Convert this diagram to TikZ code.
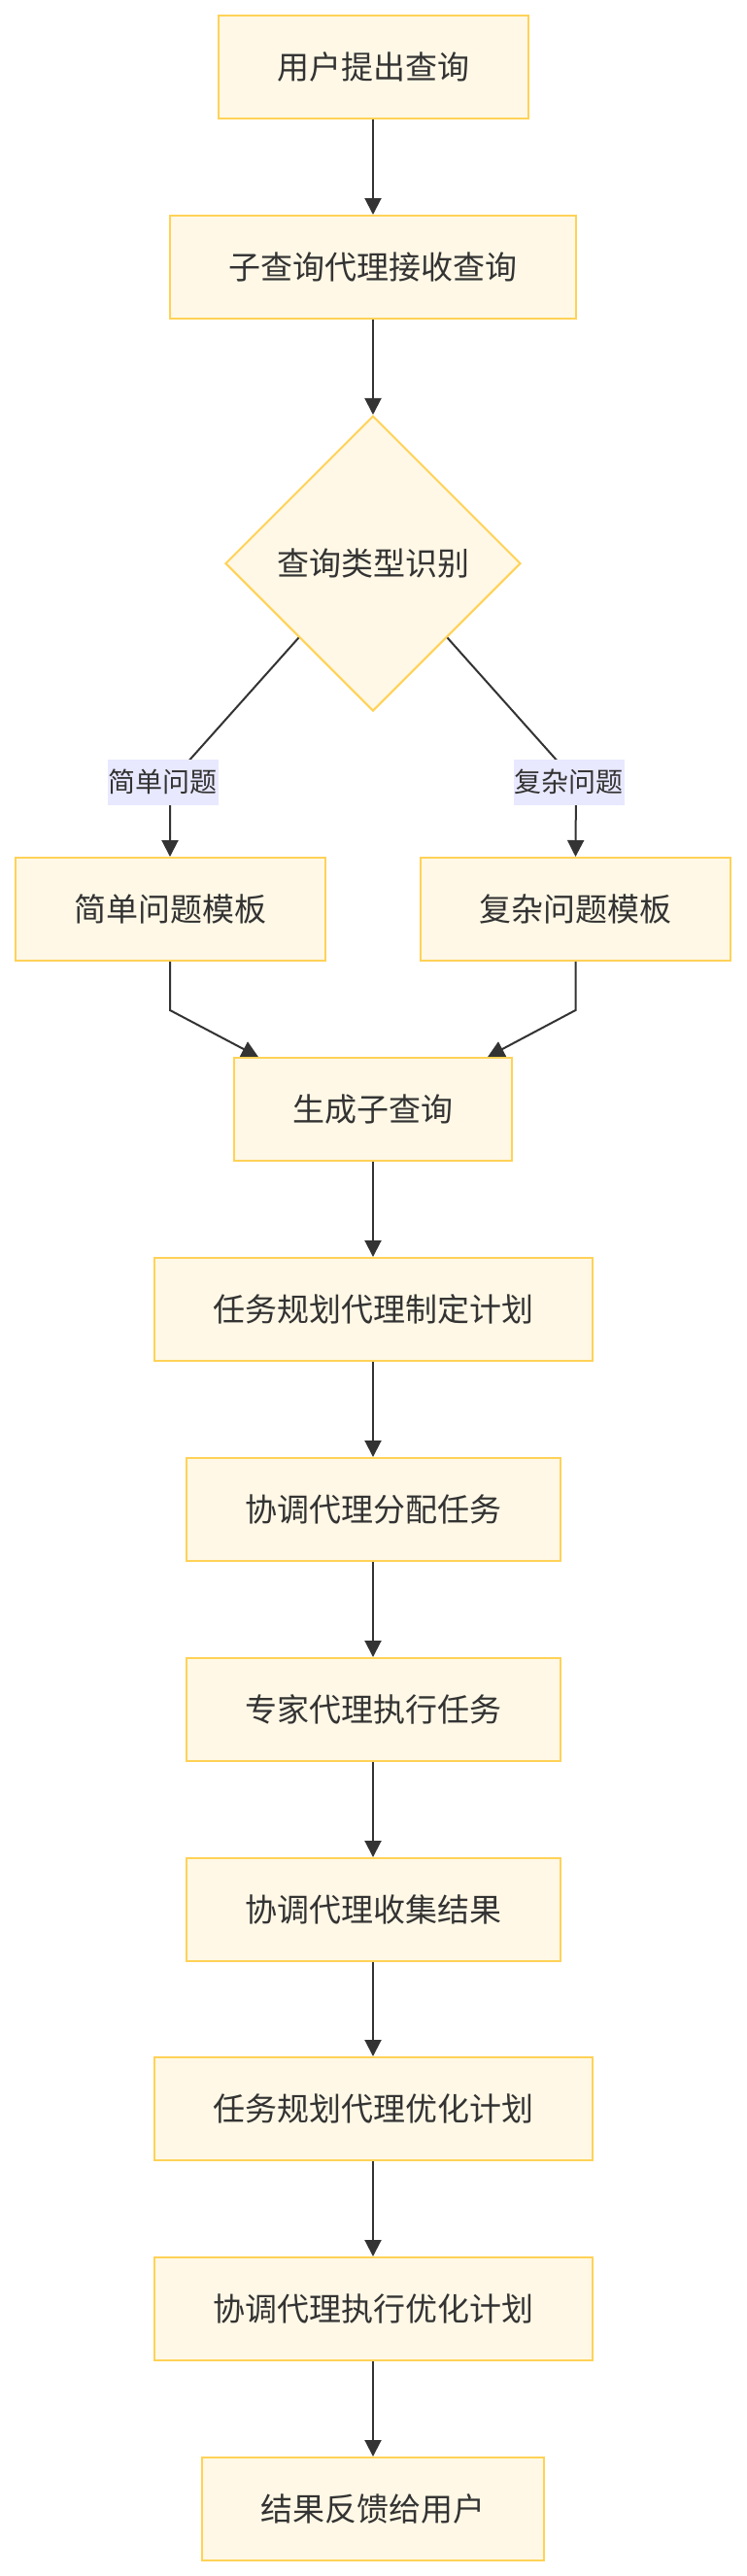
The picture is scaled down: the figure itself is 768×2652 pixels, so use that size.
\documentclass[tikz,border=0pt]{standalone}
\usepackage{fontspec}
\newfontfamily\cjk{Noto Sans CJK SC}
\usetikzlibrary{arrows.meta,shapes.geometric,calc}
\definecolor{boxfill}{HTML}{FFF8E6}
\definecolor{boxline}{HTML}{FFD257}
\definecolor{lblfill}{HTML}{E8E8FF}
\definecolor{ink}{HTML}{333333}

\begin{document}
\begin{tikzpicture}[x=0.5pt,y=-0.5pt,
  stepbox/.style={draw=boxline, fill=boxfill, line width=1pt, text=ink,
    font=\cjk\fontsize{16.5pt}{20pt}\selectfont,
    inner xsep=30.25pt, inner ysep=0pt, minimum height=53pt},
  choice/.style={diamond, aspect=1, draw=boxline, fill=boxfill, line width=1pt, text=ink,
    font=\cjk\fontsize{16.5pt}{20pt}\selectfont,
    inner sep=0pt, minimum width=152pt, minimum height=152pt},
  lbl/.style={fill=lblfill, text=ink, font=\cjk\fontsize{14pt}{17pt}\selectfont,
    inner xsep=0.5pt, inner ysep=0pt, minimum height=23.5pt},
  arr/.style={draw=ink, line width=1pt, -{Triangle[length=8.5pt,width=8.5pt]}}]
\useasboundingbox (0,0) rectangle (768,2652);
% Query intake
\node[stepbox] (ask) at (384,68.5) {用户提出查询};
\node[stepbox] (recv) at (384,275) {子查询代理接收查询};
\node[choice] (kind) at (384,580) {查询类型识别};
% Templates
\node[stepbox] (simple) at (175,936) {简单问题模板};
\node[stepbox] (complex) at (592.5,936) {复杂问题模板};
% Agent pipeline
\node[stepbox] (gen) at (384,1142) {生成子查询};
\node[stepbox] (plan) at (384,1348) {任务规划代理制定计划};
\node[stepbox] (assign) at (384,1554) {协调代理分配任务};
\node[stepbox] (expert) at (384,1760) {专家代理执行任务};
\node[stepbox] (collect) at (384,1966) {协调代理收集结果};
\node[stepbox] (refine) at (384,2171) {任务规划代理优化计划};
\node[stepbox] (run) at (384,2377) {协调代理执行优化计划};
\node[stepbox] (reply) at (384,2583) {结果反馈给用户};
% Straight links
\foreach \a/\b in {ask/recv,recv/kind,gen/plan,plan/assign,assign/expert,expert/collect,collect/refine,refine/run,run/reply}
  \draw[arr] (\a) -- (\b);
% Branches with labels
\coordinate (sturn) at (175,805);
\coordinate (cturn) at (593,805);
\draw[arr] (kind.south west) -- (sturn) node[lbl, xshift=-3.75pt] (slbl) {简单问题} -- (simple.north);
\draw[arr] (kind.south east) -- (cturn) node[lbl, xshift=-3.75pt] (clbl) {复杂问题} -- (complex.north);
% Merge into subquery generation
\draw[arr] (simple.south) -- ++(0,50) -- ($(gen.north west)!.09!(gen.north east)$);
\draw[arr] (complex.south) -- ++(0,50) -- ($(gen.north west)!.91!(gen.north east)$);
\end{tikzpicture}
\end{document}
